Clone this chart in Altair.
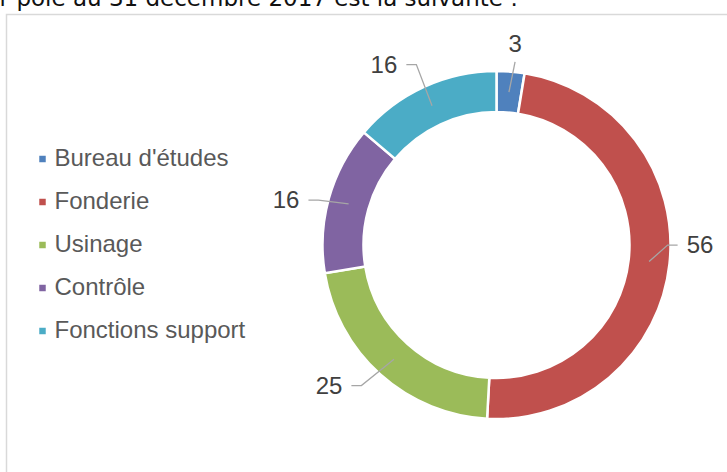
import math

import altair as alt
import pandas as pd

# Effectifs par pôle au 31 décembre 2017
categories = ["Bureau d'études", "Fonderie", "Usinage", "Contrôle", "Fonctions support"]
values = [3, 56, 25, 16, 16]
colors = ["#4F81BD", "#C0504D", "#9BBB59", "#8064A2", "#4BACC6"]

# Canvas and ring geometry (pixels)
W, H = 727, 472
CX, CY = 496.5, 245
R_OUT, R_IN = 174, 133
R_MID = (R_OUT + R_IN) / 2

# Data label placement: angle (degrees clockwise from 12 o'clock),
# distance from the centre, and which side of the label the leader line attaches to
label_layout = [
    (5.3, 201, "bottom"),
    (90.3, 203.5, "left"),
    (229.8, 219.3, "right"),
    (281.8, 215, "right"),
    (327.9, 211.8, "right"),
]


def polar(angle_deg, radius):
    a = math.radians(angle_deg)
    return CX + radius * math.sin(a), CY - radius * math.cos(a)


total = sum(values)
pie = pd.DataFrame({"category": categories, "value": values, "idx": range(len(values))})

label_rows, line_rows = [], []
cum = 0
for cat, val, (ang, rad, side) in zip(categories, values, label_layout):
    mid = (cum + val / 2) / total * 360
    cum += val
    tx, ty = polar(ang, rad)
    label_rows.append({"category": cat, "label": str(val), "x": tx, "y": ty})
    half = 6.7 * len(str(val))
    if side == "left":
        end = (tx - half - 9, ty - 1)
        elbow = (end[0] - 10, end[1])
    elif side == "right":
        end = (tx + half + 9, ty - 1)
        elbow = (end[0] + 10, end[1])
    else:
        end = (tx, ty + 17)
        elbow = end
    start = polar(mid, R_MID)
    for k, (px, py) in enumerate([end, elbow, start]):
        line_rows.append({"category": cat, "pt": k, "x": px, "y": py})

labels = pd.DataFrame(label_rows)
lines = pd.DataFrame(line_rows)
one = pd.DataFrame({"a": [0]})

frame = alt.Chart(one).mark_rect(
    fill="white", stroke="#D9D9D9", strokeWidth=1.5
).encode(
    x=alt.value(6.5), x2=alt.value(780), y=alt.value(14.5), y2=alt.value(520)
)

heading = alt.Chart(one).mark_text(
    text="par pôle au 31 décembre 2017 est la suivante :",
    font="DejaVu Sans", fontSize=23, align="right", baseline="alphabetic",
    color="#111111",
).encode(x=alt.value(518), y=alt.value(6))

donut = alt.Chart(pie).mark_arc(
    innerRadius=R_IN, outerRadius=R_OUT, stroke="white", strokeWidth=2.5
).encode(
    theta=alt.Theta("value:Q", stack=True),
    order=alt.Order("idx:Q"),
    color=alt.Color(
        "category:N",
        scale=alt.Scale(domain=categories, range=colors),
        legend=alt.Legend(
            title=None, orient="none", legendX=30.5, legendY=147, padding=0,
            symbolType="square", symbolSize=42, symbolStrokeWidth=0,
            labelFont="Liberation Sans", labelFontSize=24, labelColor="#595959",
            labelLimit=400, labelOffset=0, rowPadding=19,
        ),
    ),
    x=alt.value(CX),
    y=alt.value(CY),
)

leaders = alt.Chart(lines).mark_line(color="#A6A6A6", strokeWidth=1.3).encode(
    x=alt.X("x:Q", scale=None, axis=None),
    y=alt.Y("y:Q", scale=None, axis=None),
    detail="category:N",
    order="pt:Q",
)

value_labels = alt.Chart(labels).mark_text(
    font="Liberation Sans", fontSize=24, color="#404040", align="center", baseline="middle"
).encode(
    x=alt.X("x:Q", scale=None, axis=None),
    y=alt.Y("y:Q", scale=None, axis=None),
    text="label:N",
)

chart = alt.layer(frame, heading, donut, leaders, value_labels).properties(
    width=W, height=H, padding=0, autosize=alt.AutoSizeParams(type="none")
).configure_view(stroke=None)

chart.save("out.html", embed_options={"renderer": "svg", "actions": False})
